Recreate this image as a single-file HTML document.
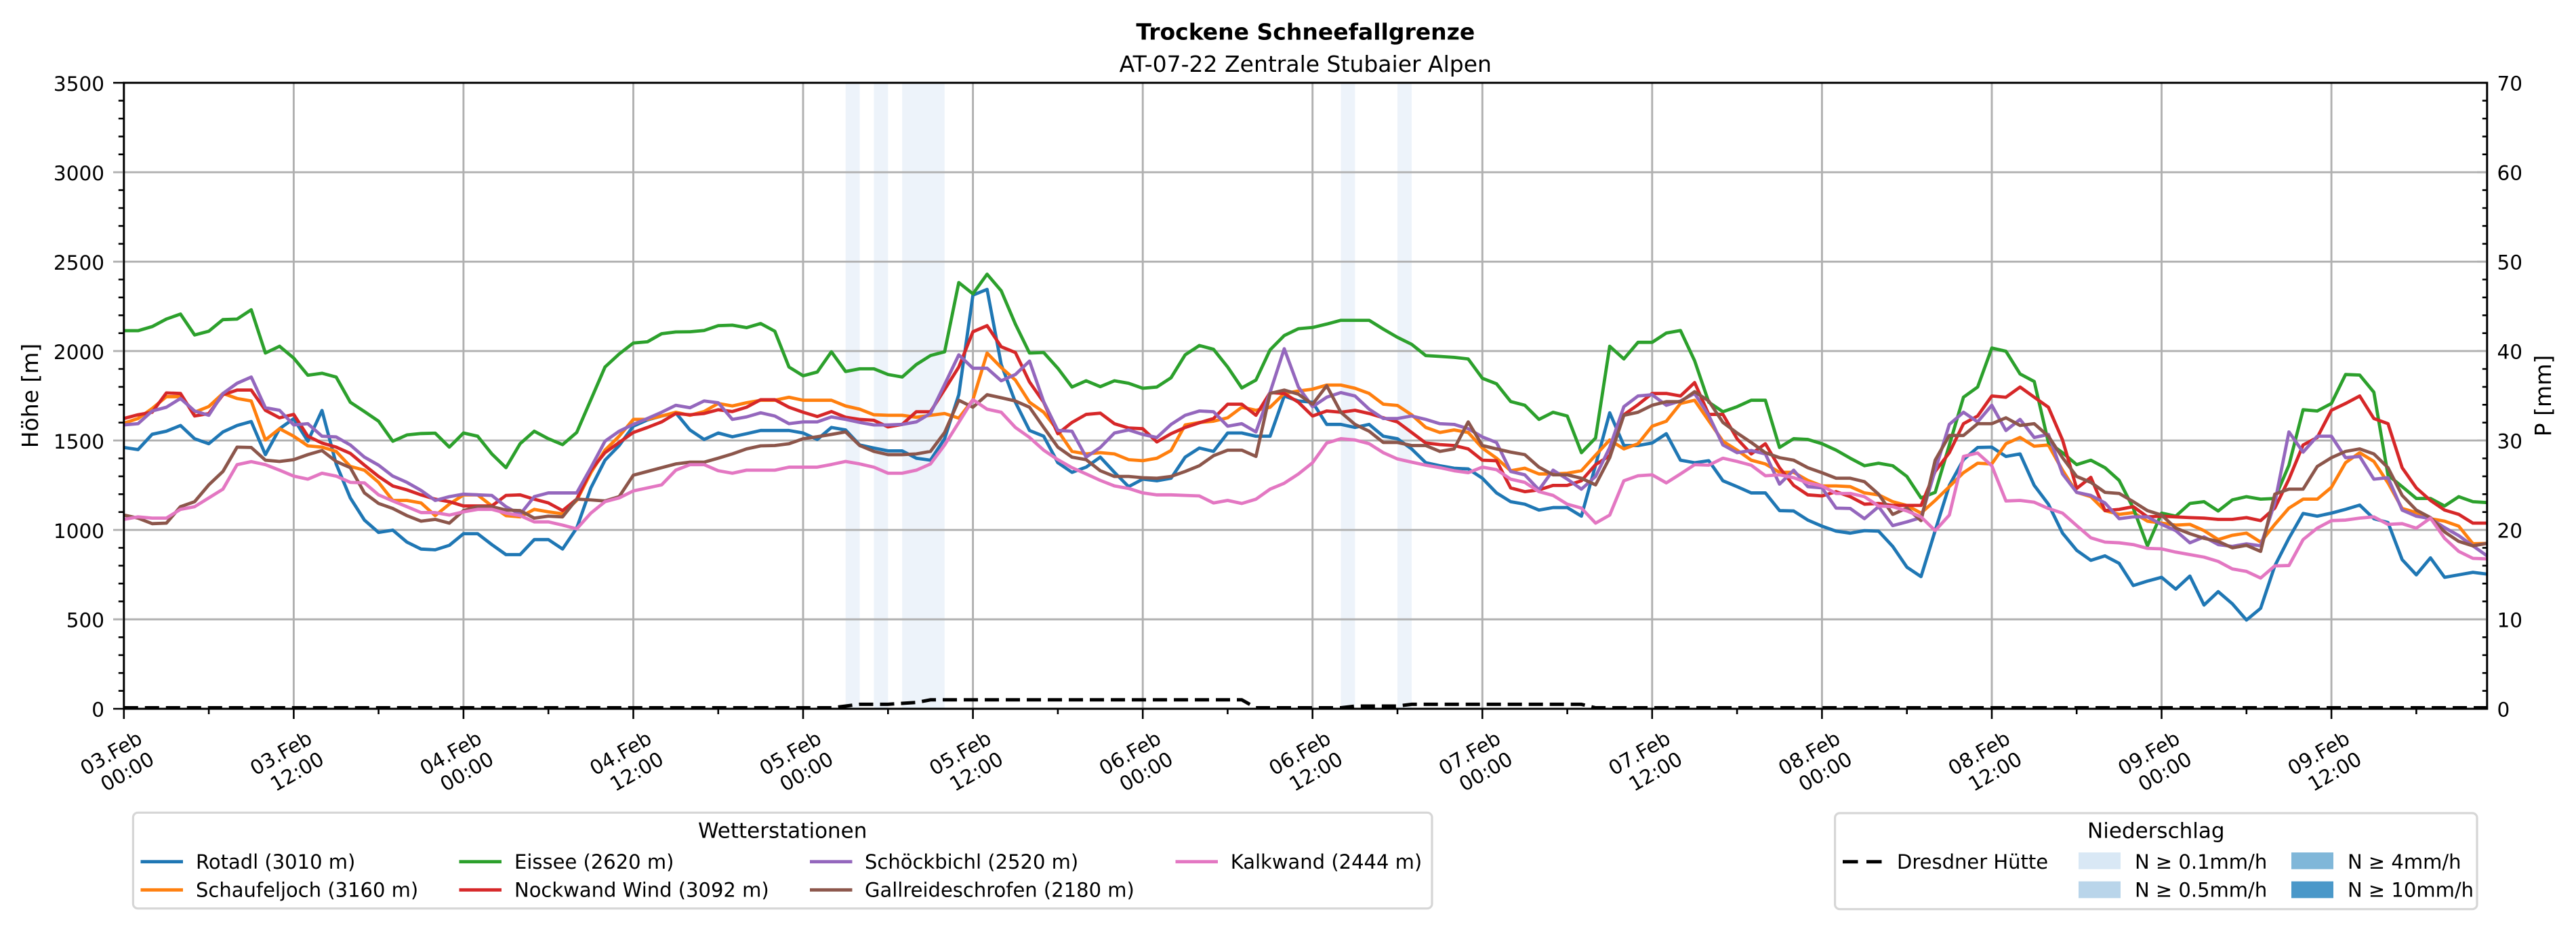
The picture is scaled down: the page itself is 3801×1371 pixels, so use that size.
<!DOCTYPE html>
<html>
<head>
<meta charset="utf-8">
<style>
  html,body{margin:0;padding:0;background:#fff;}
  svg{display:block;}
  text{font-family:"DejaVu Sans","Liberation Sans",sans-serif;fill:#000;}
</style>
</head>
<body>
<svg width="3801" height="1371" viewBox="0 0 3801 1371" xmlns="http://www.w3.org/2000/svg">
<rect x="0" y="0" width="3801" height="1371" fill="#ffffff"/>

<!-- precipitation bands -->
<g fill="#edf3fa">
  <rect x="1247.7" y="122.2" width="20.9" height="923.8"/>
  <rect x="1289.5" y="122.2" width="20.9" height="923.8"/>
  <rect x="1331.2" y="122.2" width="62.6" height="923.8"/>
  <rect x="1978.5" y="122.2" width="20.9" height="923.8"/>
  <rect x="2062.0" y="122.2" width="20.9" height="923.8"/>
</g>

<!-- grid -->
<g stroke="#b0b0b0" stroke-width="2.9" fill="none">
  <path d="M182.8 914H3669.8M182.8 782.1H3669.8M182.8 650.1H3669.8M182.8 518.1H3669.8M182.8 386.2H3669.8M182.8 254.2H3669.8"/>
  <path d="M433.4 122.2V1046M683.9 122.2V1046M934.5 122.2V1046M1185 122.2V1046M1435.6 122.2V1046M1686.2 122.2V1046M1936.7 122.2V1046M2187.3 122.2V1046M2437.8 122.2V1046M2688.4 122.2V1046M2939 122.2V1046M3189.5 122.2V1046M3440.1 122.2V1046"/>
</g>

<!-- series -->
<g transform="matrix(20.88,0,0,-0.26394,182.8,1046)" fill="none" stroke-width="4.8" stroke-linejoin="round">
<polyline vector-effect="non-scaling-stroke" stroke="#1f77b4" points="0,1461 1,1449 2,1535 3,1552 4,1584 5,1510 6,1482 7,1548 8,1584 9,1606 10,1421 11,1566 12,1622 13,1496 14,1668 15,1369 16,1179 17,1055 18,986 19,999 20,932 21,893 22,889 23,914 24,979 25,979 26,918 27,862 28,862 29,946 30,946 31,893 32,1010 33,1235 34,1390 35,1472 36,1580 37,1615 38,1637 39,1655 40,1559 41,1506 42,1542 43,1521 44,1538 45,1556 46,1556 47,1556 48,1542 49,1506 50,1573 51,1559 52,1475 53,1458 54,1442 55,1442 56,1401 57,1390 58,1510 59,1756 60,2313 61,2345 62,1925 63,1714 64,1556 65,1524 66,1376 67,1322 68,1351 69,1407 70,1322 71,1242 72,1284 73,1275 74,1289 75,1407 76,1458 77,1439 78,1542 79,1542 80,1524 81,1524 82,1749 83,1721 84,1714 85,1590 86,1590 87,1573 88,1590 89,1524 90,1510 91,1453 92,1376 93,1359 94,1345 95,1341 96,1289 97,1207 98,1158 99,1144 100,1111 101,1125 102,1125 103,1077 104,1362 105,1655 106,1472 107,1472 108,1486 109,1538 110,1390 111,1376 112,1387 113,1275 114,1242 115,1207 116,1207 117,1108 118,1106 119,1055 120,1021 121,993 122,982 123,996 124,993 125,908 126,792 127,739 128,996 129,1249 130,1393 131,1461 132,1463 133,1411 134,1425 135,1249 136,1144 137,982 138,886 139,830 140,855 141,813 142,689 143,714 144,735 145,669 146,742 147,580 148,655 149,587 150,496 151,562 152,799 153,954 154,1092 155,1077 156,1094 157,1115 158,1139 159,1063 160,1041 161,834 162,749 163,844 164,735 165,749 166,763 167,753"/>
<polyline vector-effect="non-scaling-stroke" stroke="#ff7f0e" points="0,1597 1,1623 2,1679 3,1745 4,1745 5,1658 6,1690 7,1763 8,1735 9,1721 10,1503 11,1566 12,1524 13,1470 14,1463 15,1439 16,1355 17,1334 18,1266 19,1165 20,1165 21,1151 22,1080 23,1144 24,1196 25,1196 26,1134 27,1080 28,1073 29,1115 30,1101 31,1090 32,1165 33,1320 34,1446 35,1524 36,1618 37,1618 38,1637 39,1658 40,1641 41,1662 42,1707 43,1693 44,1711 45,1725 46,1725 47,1742 48,1725 49,1725 50,1725 51,1693 52,1675 53,1644 54,1641 55,1641 56,1630 57,1641 58,1651 59,1625 60,1728 61,1989 62,1908 63,1838 64,1714 65,1658 66,1556 67,1439 68,1425 69,1432 70,1425 71,1393 72,1387 73,1401 74,1444 75,1587 76,1601 77,1608 78,1627 79,1686 80,1669 81,1686 82,1763 83,1777 84,1787 85,1810 86,1810 87,1792 88,1763 89,1703 90,1696 91,1644 92,1573 93,1545 94,1559 95,1545 96,1458 97,1401 98,1331 99,1345 100,1313 101,1313 102,1317 103,1331 104,1418 105,1503 106,1453 107,1482 108,1580 109,1608 110,1707 111,1725 112,1610 113,1496 114,1446 115,1390 116,1369 117,1322 118,1322 119,1277 120,1246 121,1246 122,1242 123,1207 124,1196 125,1158 126,1137 127,1094 128,1165 129,1242 130,1320 131,1373 132,1369 133,1482 134,1517 135,1468 136,1475 137,1334 138,1210 139,1186 140,1108 141,1087 142,1097 143,1049 144,1038 145,1027 146,1031 147,996 148,946 149,970 150,982 151,932 152,1031 153,1122 154,1172 155,1172 156,1238 157,1376 158,1432 159,1383 160,1263 161,1120 162,1097 163,1063 164,1049 165,1021 166,923 167,925"/>
<polyline vector-effect="non-scaling-stroke" stroke="#2ca02c" points="0,2114 1,2114 2,2137 3,2179 4,2207 5,2090 6,2111 7,2176 8,2179 9,2231 10,1989 11,2027 12,1961 13,1865 14,1876 15,1855 16,1714 17,1662 18,1608 19,1496 20,1531 21,1539 22,1541 23,1463 24,1542 25,1524 26,1425 27,1348 28,1482 29,1552 30,1510 31,1477 32,1545 33,1728 34,1911 35,1984 36,2045 37,2052 38,2097 39,2107 40,2108 41,2115 42,2142 43,2145 44,2131 45,2154 46,2111 47,1911 48,1862 49,1883 50,1996 51,1886 52,1901 53,1901 54,1869 55,1855 56,1925 57,1975 58,1996 59,2383 60,2320 61,2430 62,2337 63,2151 64,1989 65,1992 66,1904 67,1799 68,1834 69,1801 70,1834 71,1820 72,1792 73,1799 74,1851 75,1979 76,2031 77,2010 78,1911 79,1794 80,1838 81,2007 82,2087 83,2125 84,2132 85,2151 86,2172 87,2172 88,2172 89,2123 90,2077 91,2038 92,1975 93,1970 94,1965 95,1956 96,1848 97,1817 98,1718 99,1697 100,1618 101,1658 102,1637 103,1432 104,1514 105,2027 106,1956 107,2049 108,2049 109,2101 110,2115 111,1946 112,1714 113,1661 114,1689 115,1725 116,1725 117,1461 118,1510 119,1506 120,1482 121,1446 122,1401 123,1359 124,1373 125,1359 126,1299 127,1179 128,1210 129,1475 130,1742 131,1799 132,2017 133,1999 134,1872 135,1830 136,1489 137,1432 138,1365 139,1390 140,1348 141,1277 142,1122 143,911 144,1094 145,1077 146,1148 147,1158 148,1106 149,1168 150,1186 151,1172 152,1176 153,1362 154,1672 155,1665 156,1707 157,1869 158,1866 159,1770 160,1306 161,1242 162,1176 163,1176 164,1134 165,1186 166,1158 167,1153"/>
<polyline vector-effect="non-scaling-stroke" stroke="#d62728" points="0,1623 1,1644 2,1658 3,1766 4,1763 5,1637 6,1651 7,1756 8,1782 9,1782 10,1669 11,1627 12,1646 13,1524 14,1486 15,1463 16,1428 17,1362 18,1299 19,1246 20,1224 21,1196 22,1172 23,1158 24,1134 25,1134 26,1134 27,1193 28,1196 29,1172 30,1151 31,1108 32,1172 33,1334 34,1432 35,1489 36,1545 37,1573 38,1604 39,1651 40,1644 41,1651 42,1672 43,1662 44,1686 45,1728 46,1728 47,1686 48,1658 49,1634 50,1662 51,1630 52,1618 53,1613 54,1576 55,1590 56,1661 57,1661 58,1785 59,1911 60,2108 61,2142 62,2024 63,1992 64,1827 65,1714 66,1538 67,1601 68,1646 69,1653 70,1594 71,1570 72,1566 73,1492 74,1538 75,1573 76,1599 77,1623 78,1703 79,1703 80,1641 81,1768 82,1763 83,1714 84,1637 85,1665 86,1658 87,1669 88,1651 89,1627 90,1604 91,1545 92,1486 93,1477 94,1472 95,1453 96,1390 97,1387 98,1235 99,1214 100,1224 101,1249 102,1249 103,1275 104,1365 105,1415 106,1644 107,1700 108,1763 109,1763 110,1749 111,1824 112,1646 113,1646 114,1510 115,1425 116,1482 117,1348 118,1249 119,1196 120,1190 121,1214 122,1186 123,1144 124,1148 125,1137 126,1137 127,1137 128,1327 129,1432 130,1594 131,1637 132,1749 133,1742 134,1799 135,1742 136,1686 137,1503 138,1232 139,1294 140,1108 141,1115 142,1130 143,1073 144,1077 145,1073 146,1069 147,1066 148,1059 149,1059 150,1069 151,1052 152,1122 153,1284 154,1475 155,1517 156,1669 157,1707 158,1749 159,1623 160,1594 161,1348 162,1235 163,1165 164,1111 165,1087 166,1038 167,1038"/>
<polyline vector-effect="non-scaling-stroke" stroke="#9467bd" points="0,1587 1,1594 2,1665 3,1686 4,1735 5,1665 6,1641 7,1763 8,1820 9,1855 10,1683 11,1669 12,1587 13,1594 14,1524 15,1520 16,1475 17,1407 18,1362 19,1301 20,1266 21,1221 22,1165 23,1186 24,1200 25,1196 26,1193 27,1130 28,1087 29,1186 30,1207 31,1207 32,1207 33,1348 34,1496 35,1552 36,1590 37,1623 38,1658 39,1697 40,1683 41,1721 42,1711 43,1618 44,1632 45,1655 46,1637 47,1594 48,1604 49,1604 50,1632 51,1618 52,1601 53,1587 54,1587 55,1590 56,1604 57,1651 58,1813 59,1979 60,1904 61,1904 62,1834 63,1869 64,1944 65,1717 66,1556 67,1552 68,1407 69,1461 70,1542 71,1559 72,1534 73,1517 74,1590 75,1641 76,1665 77,1661 78,1580 79,1594 80,1548 81,1770 82,2013 83,1799 84,1689 85,1742 86,1768 87,1749 88,1675 89,1623 90,1623 91,1637 92,1618 93,1594 94,1590 95,1566 96,1520 97,1489 98,1327 99,1308 100,1224 101,1334 102,1284 103,1228 104,1299 105,1461 106,1689 107,1749 108,1756 109,1697 110,1721 111,1763 112,1640 113,1475 114,1432 115,1444 116,1425 117,1256 118,1334 119,1242 120,1235 121,1122 122,1120 123,1063 124,1130 125,1024 126,1045 127,1069 128,1334 129,1590 130,1658 131,1604 132,1697 133,1556 134,1618 135,1517 136,1534 137,1313 138,1210 139,1193 140,1151 141,1063 142,1073 143,1073 144,1031 145,996 146,928 147,961 148,918 149,908 150,922 151,911 152,1151 153,1548 154,1435 155,1524 156,1524 157,1404 158,1411 159,1284 160,1292 161,1111 162,1077 163,1063 164,1013 165,968 166,911 167,855"/>
<polyline vector-effect="non-scaling-stroke" stroke="#8c564b" points="0,1083 1,1066 2,1035 3,1038 4,1130 5,1158 6,1252 7,1327 8,1463 9,1461 10,1390 11,1383 12,1393 13,1421 14,1444 15,1383 16,1348 17,1207 18,1148 19,1120 20,1080 21,1049 22,1059 23,1038 24,1108 25,1130 26,1130 27,1111 28,1108 29,1066 30,1077 31,1073 32,1172 33,1168 34,1162 35,1186 36,1306 37,1327 38,1348 39,1369 40,1379 41,1379 42,1401 43,1425 44,1453 45,1470 46,1472 47,1482 48,1510 49,1521 50,1534 51,1548 52,1472 53,1439 54,1421 55,1421 56,1425 57,1439 58,1545 59,1725 60,1686 61,1756 62,1739 63,1721 64,1686 65,1573 66,1463 67,1407 68,1393 69,1331 70,1299 71,1299 72,1292 73,1289 74,1299 75,1327 76,1359 77,1415 78,1446 79,1446 80,1411 81,1763 82,1782 83,1759 84,1703 85,1806 86,1658 87,1590 88,1552 89,1489 90,1489 91,1472 92,1472 93,1439 94,1453 95,1604 96,1472 97,1453 98,1435 99,1421 100,1351 101,1308 102,1308 103,1289 104,1252 105,1404 106,1641 107,1658 108,1697 109,1717 110,1717 111,1773 112,1721 113,1601 114,1542 115,1489 116,1432 117,1404 118,1390 119,1348 120,1320 121,1289 122,1289 123,1270 124,1200 125,1087 126,1122 127,1052 128,1390 129,1528 130,1528 131,1594 132,1594 133,1627 134,1584 135,1594 136,1524 137,1404 138,1299 139,1266 140,1210 141,1204 142,1158 143,1108 144,1083 145,1010 146,979 147,953 148,936 149,900 150,914 151,880 152,1200 153,1228 154,1228 155,1355 156,1404 157,1439 158,1453 159,1425 160,1348 161,1193 162,1111 163,1069 164,989 165,936 166,911 167,925"/>
<polyline vector-effect="non-scaling-stroke" stroke="#e377c2" points="0,1059 1,1073 2,1066 3,1066 4,1115 5,1130 6,1179 7,1228 8,1365 9,1382 10,1365 11,1334 12,1301 13,1284 14,1317 15,1301 16,1266 17,1263 18,1196 19,1162 20,1130 21,1097 22,1097 23,1083 24,1101 25,1115 26,1115 27,1094 28,1080 29,1045 30,1045 31,1027 32,1006 33,1094 34,1158 35,1179 36,1218 37,1235 38,1252 39,1334 40,1365 41,1365 42,1331 43,1317 44,1334 45,1334 46,1334 47,1351 48,1351 49,1351 50,1366 51,1383 52,1369 53,1351 54,1317 55,1317 56,1334 57,1369 58,1475 59,1601 60,1728 61,1675 62,1658 63,1573 64,1517 65,1446 66,1393 67,1348 68,1313 69,1277 70,1246 71,1232 72,1207 73,1196 74,1196 75,1193 76,1190 77,1151 78,1165 79,1148 80,1172 81,1228 82,1261 83,1313 84,1376 85,1486 86,1510 87,1503 88,1482 89,1432 90,1397 91,1379 92,1362 93,1348 94,1331 95,1320 96,1351 97,1337 98,1284 99,1266 100,1214 101,1193 102,1144 103,1122 104,1038 105,1083 106,1275 107,1303 108,1308 109,1263 110,1313 111,1365 112,1362 113,1401 114,1383 115,1362 116,1303 117,1308 118,1292 119,1263 120,1246 121,1204 122,1204 123,1186 124,1134 125,1130 126,1106 127,1073 128,996 129,1083 130,1411 131,1430 132,1359 133,1162 134,1165 135,1155 136,1120 137,1094 138,1024 139,956 140,932 141,928 142,918 143,897 144,894 145,876 146,862 147,848 148,824 149,782 150,768 151,731 152,799 153,801 154,946 155,1010 156,1052 157,1055 158,1066 159,1073 160,1031 161,1035 162,1010 163,1066 164,953 165,880 166,841 167,838"/>
</g>

<!-- spines -->
<rect x="182.8" y="122.2" width="3487" height="923.8" fill="none" stroke="#000" stroke-width="3"/>

<!-- Dresdner Hütte dashed -->
<path d="M182.8 1044.5H1226.8L1247.7 1042L1268.6 1039.4H1310.3L1331.2 1038L1352.1 1036.7L1373 1032.8H1832.3L1853.2 1044.5H1978.5L1999.4 1042H2062L2082.9 1039.4H2333.4L2354.3 1044.5H3669.8" fill="none" stroke="#000" stroke-width="5" stroke-dasharray="21 10"/>

<!-- ticks -->
<g stroke="#000" stroke-width="2.6" fill="none">
  <path d="M174.8 1019.6H182.8M174.8 993.2H182.8M174.8 966.8H182.8M174.8 940.4H182.8M174.8 887.6H182.8M174.8 861.2H182.8M174.8 834.8H182.8M174.8 808.5H182.8M174.8 755.7H182.8M174.8 729.3H182.8M174.8 702.9H182.8M174.8 676.5H182.8M174.8 623.7H182.8M174.8 597.3H182.8M174.8 570.9H182.8M174.8 544.5H182.8M174.8 491.7H182.8M174.8 465.3H182.8M174.8 438.9H182.8M174.8 412.5H182.8M174.8 359.8H182.8M174.8 333.4H182.8M174.8 307H182.8M174.8 280.6H182.8M174.8 227.8H182.8M174.8 201.4H182.8M174.8 175H182.8M174.8 148.6H182.8"/>
  <path d="M3662.8 1019.6H3669.8M3662.8 993.2H3669.8M3662.8 966.8H3669.8M3662.8 940.4H3669.8M3662.8 887.6H3669.8M3662.8 861.2H3669.8M3662.8 834.8H3669.8M3662.8 808.5H3669.8M3662.8 755.7H3669.8M3662.8 729.3H3669.8M3662.8 702.9H3669.8M3662.8 676.5H3669.8M3662.8 623.7H3669.8M3662.8 597.3H3669.8M3662.8 570.9H3669.8M3662.8 544.5H3669.8M3662.8 491.7H3669.8M3662.8 465.3H3669.8M3662.8 438.9H3669.8M3662.8 412.5H3669.8M3662.8 359.8H3669.8M3662.8 333.4H3669.8M3662.8 307H3669.8M3662.8 280.6H3669.8M3662.8 227.8H3669.8M3662.8 201.4H3669.8M3662.8 175H3669.8M3662.8 148.6H3669.8"/>
  <path d="M167 1046H182.8M167 122.2H182.8"/>
  <path d="M182.8 1046V1061M433.4 1046V1061M683.9 1046V1061M934.5 1046V1061M1185 1046V1061M1435.6 1046V1061M1686.2 1046V1061M1936.7 1046V1061M2187.3 1046V1061M2437.8 1046V1061M2688.4 1046V1061M2939 1046V1061M3189.5 1046V1061M3440.1 1046V1061"/>
  <path d="M308.1 1046V1054M558.6 1046V1054M809.2 1046V1054M1059.8 1046V1054M1310.3 1046V1054M1560.9 1046V1054M1811.4 1046V1054M2062 1046V1054M2312.6 1046V1054M2563.1 1046V1054M2813.7 1046V1054M3064.2 1046V1054M3314.8 1046V1054M3565.4 1046V1054"/>
</g>
<g stroke="#b0b0b0" stroke-width="2.9" fill="none">
  <path d="M167 914H181.3M167 782.1H181.3M167 650.1H181.3M167 518.1H181.3M167 386.2H181.3M167 254.2H181.3"/>
  <path d="M3655 914H3668.3M3655 782.1H3668.3M3655 650.1H3668.3M3655 518.1H3668.3M3655 386.2H3668.3M3655 254.2H3668.3"/>
</g>

<!-- y tick labels left -->
<g font-size="29.5" text-anchor="end">
  <text x="154" y="1057.7">0</text>
  <text x="154" y="925.7">500</text>
  <text x="154" y="793.8">1000</text>
  <text x="154" y="661.8">1500</text>
  <text x="154" y="529.8">2000</text>
  <text x="154" y="397.9">2500</text>
  <text x="154" y="265.9">3000</text>
  <text x="154" y="133.9">3500</text>
</g>
<!-- y tick labels right -->
<g font-size="29.5" text-anchor="start">
  <text x="3684.5" y="1057.5">0</text>
  <text x="3684.5" y="925.5">10</text>
  <text x="3684.5" y="793.6">20</text>
  <text x="3684.5" y="661.6">30</text>
  <text x="3684.5" y="529.6">40</text>
  <text x="3684.5" y="397.7">50</text>
  <text x="3684.5" y="265.7">60</text>
  <text x="3684.5" y="133.7">70</text>
</g>

<!-- axis labels -->
<text font-size="33" text-anchor="middle" transform="translate(56,584) rotate(-90)">Höhe [m]</text>
<text font-size="33" text-anchor="middle" transform="translate(3764,584) rotate(-90)">P [mm]</text>

<!-- x tick labels -->
<g font-size="29.5" text-anchor="end">
  <g transform="translate(212,1095.6) rotate(-30)"><text x="0" y="0">03.Feb</text><text x="0" y="35.4">00:00</text></g>
  <g transform="translate(462.6,1095.6) rotate(-30)"><text x="0" y="0">03.Feb</text><text x="0" y="35.4">12:00</text></g>
  <g transform="translate(713.1,1095.6) rotate(-30)"><text x="0" y="0">04.Feb</text><text x="0" y="35.4">00:00</text></g>
  <g transform="translate(963.7,1095.6) rotate(-30)"><text x="0" y="0">04.Feb</text><text x="0" y="35.4">12:00</text></g>
  <g transform="translate(1214.2,1095.6) rotate(-30)"><text x="0" y="0">05.Feb</text><text x="0" y="35.4">00:00</text></g>
  <g transform="translate(1464.8,1095.6) rotate(-30)"><text x="0" y="0">05.Feb</text><text x="0" y="35.4">12:00</text></g>
  <g transform="translate(1715.4,1095.6) rotate(-30)"><text x="0" y="0">06.Feb</text><text x="0" y="35.4">00:00</text></g>
  <g transform="translate(1965.9,1095.6) rotate(-30)"><text x="0" y="0">06.Feb</text><text x="0" y="35.4">12:00</text></g>
  <g transform="translate(2216.5,1095.6) rotate(-30)"><text x="0" y="0">07.Feb</text><text x="0" y="35.4">00:00</text></g>
  <g transform="translate(2467,1095.6) rotate(-30)"><text x="0" y="0">07.Feb</text><text x="0" y="35.4">12:00</text></g>
  <g transform="translate(2717.6,1095.6) rotate(-30)"><text x="0" y="0">08.Feb</text><text x="0" y="35.4">00:00</text></g>
  <g transform="translate(2968.2,1095.6) rotate(-30)"><text x="0" y="0">08.Feb</text><text x="0" y="35.4">12:00</text></g>
  <g transform="translate(3218.7,1095.6) rotate(-30)"><text x="0" y="0">09.Feb</text><text x="0" y="35.4">00:00</text></g>
  <g transform="translate(3469.3,1095.6) rotate(-30)"><text x="0" y="0">09.Feb</text><text x="0" y="35.4">12:00</text></g>
</g>

<!-- titles -->
<text x="1926.3" y="58.3" font-size="33" font-weight="bold" text-anchor="middle">Trockene Schneefallgrenze</text>
<text x="1926.3" y="106" font-size="33" text-anchor="middle">AT-07-22 Zentrale Stubaier Alpen</text>

<!-- legend: Wetterstationen -->
<rect x="196.4" y="1199.3" width="1916.6" height="141.4" rx="7" ry="7" fill="#ffffff" stroke="#d6d6d6" stroke-width="3.2"/>
<text x="1154.7" y="1236.7" font-size="31" text-anchor="middle">Wetterstationen</text>
<g stroke-width="4.8" fill="none">
  <path d="M207.5 1271.7H270" stroke="#1f77b4"/>
  <path d="M207.5 1313.3H270" stroke="#ff7f0e"/>
  <path d="M677.5 1271.7H740" stroke="#2ca02c"/>
  <path d="M677.5 1313.3H740" stroke="#d62728"/>
  <path d="M1195 1271.7H1257.5" stroke="#9467bd"/>
  <path d="M1195 1313.3H1257.5" stroke="#8c564b"/>
  <path d="M1734.5 1271.7H1797" stroke="#e377c2"/>
</g>
<g font-size="29">
  <text x="289" y="1282">Rotadl (3010 m)</text>
  <text x="289" y="1323.5">Schaufeljoch (3160 m)</text>
  <text x="759" y="1282">Eissee (2620 m)</text>
  <text x="759" y="1323.5">Nockwand Wind (3092 m)</text>
  <text x="1276" y="1282">Schöckbichl (2520 m)</text>
  <text x="1276" y="1323.5">Gallreideschrofen (2180 m)</text>
  <text x="1815.7" y="1282">Kalkwand (2444 m)</text>
</g>

<!-- legend: Niederschlag -->
<rect x="2707.6" y="1200" width="947.4" height="141.7" rx="7" ry="7" fill="#ffffff" stroke="#d6d6d6" stroke-width="3.2"/>
<text x="3181.3" y="1236.7" font-size="31" text-anchor="middle">Niederschlag</text>
<path d="M2719 1271.7H2777" stroke="#000" stroke-width="5" stroke-dasharray="22.5 12.5" fill="none"/>
<rect x="3067" y="1258" width="62" height="24.7" fill="#d9e8f5"/>
<rect x="3067" y="1300.7" width="62" height="24.7" fill="#b9d5ea"/>
<rect x="3381" y="1258" width="62" height="24.7" fill="#80b7d9"/>
<rect x="3381" y="1300.7" width="62" height="24.7" fill="#4a98c9"/>
<g font-size="29">
  <text x="2799" y="1282">Dresdner Hütte</text>
  <text x="3150" y="1282">N ≥ 0.1mm/h</text>
  <text x="3150" y="1323.5">N ≥ 0.5mm/h</text>
  <text x="3464" y="1282">N ≥ 4mm/h</text>
  <text x="3464" y="1323.5">N ≥ 10mm/h</text>
</g>
</svg>
</body>
</html>
